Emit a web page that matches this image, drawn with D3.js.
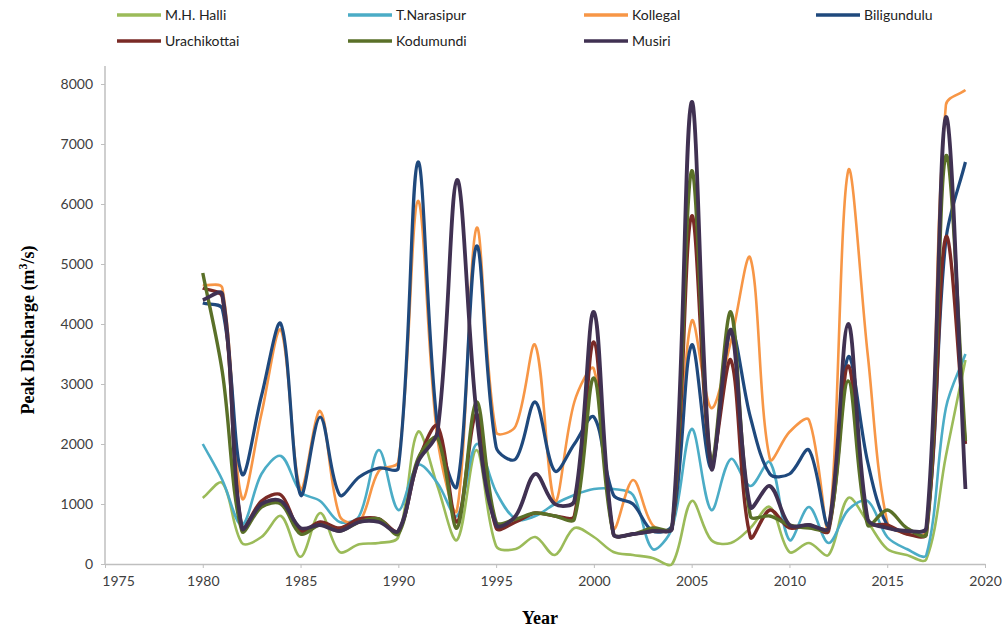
<!DOCTYPE html>
<html lang="en">
<meta charset="utf-8">
<head>
    <script src='https://d3js.org/d3.v7.min.js'></script>
    <style>
        body { margin: 0; background: #fff; }
        svg text { font-family: Lato, "Open Sans", sans-serif; }
    </style>
</head>
<body>
<div id="chart"></div>
<script>
// years 1980 - 2019
const years = d3.range(1980, 2020);

const mhHalli     = [1100,1350,350,450,800,120,850,200,330,350,450,2200,1300,400,1900,300,250,450,150,600,450,200,150,100,0,1050,400,350,600,950,200,350,150,1100,700,250,150,80,1800,3400];
const tNarasipur  = [2000,1400,650,1500,1800,1200,1050,700,800,1900,900,1650,1350,800,2000,1200,750,800,1000,1150,1250,1250,1150,250,600,2250,900,1750,1300,1700,400,950,350,900,1050,450,250,150,2600,3500];
const kollegal    = [4650,4600,1100,2500,3900,1250,2550,800,700,1550,1700,6050,2100,900,5600,2200,2300,3650,1050,2700,3250,600,1400,650,600,4050,2600,3700,5100,1750,2200,2400,600,6550,3500,700,500,550,7650,7900];
const biligundulu = [4350,4250,1500,2800,4000,1150,2450,1150,1450,1600,1600,6700,2300,1300,5300,1950,1750,2700,1550,2000,2450,1150,1000,550,650,3650,1600,3900,2450,1500,1500,1900,650,3450,1700,650,550,600,5400,6700];
const urachikottai= [4600,4450,600,1050,1150,550,700,600,750,750,550,1700,2300,700,2500,600,700,850,800,800,3700,500,500,550,600,5800,1700,3400,450,900,600,650,550,3300,700,650,500,500,5450,2000];
const kodumundi   = [4850,3200,550,950,1000,500,650,550,700,750,500,1750,2100,600,2700,700,750,850,800,750,3100,500,500,600,600,6550,1700,4200,800,800,650,600,600,3050,650,900,600,500,6800,2050];
const musiri      = [4400,4500,600,1000,1050,600,650,550,700,700,550,1700,2200,6400,2500,650,800,1500,1000,1050,4200,500,500,550,600,7700,1600,3900,950,1300,650,650,600,4000,750,600,550,600,7450,1250];

const names  = ['M.H. Halli','T.Narasipur','Kollegal','Biligundulu','Urachikottai','Kodumundi','Musiri'];
const values = [mhHalli, tNarasipur, kollegal, biligundulu, urachikottai, kodumundi, musiri];
const colors = ['#9BBB59','#4BACC6','#F79646','#1F497D','#7A2A26','#5A7028','#403152'];
const widths = [2.6, 2.6, 2.6, 3.2, 3.4, 3.4, 3.8];

const xTicks = d3.range(1975, 2021, 5);
const yTicks = d3.range(0, 8001, 1000);

const W = 1008, H = 636;
const svg = d3.select('#chart').append('svg')
    .attr('width', W).attr('height', H);

const x = d3.scaleLinear().domain([1975, 2020]).range([105, 985]);
const y = d3.scaleLinear().domain([0, 8000]).range([564, 84]);

// spreadsheet-style smoothing: catmull-rom tangents weighted by segment length
function smoothCurve(context) {
    let pts;
    return {
        areaStart() {}, areaEnd() {},
        lineStart() { pts = []; },
        point(px, py) { pts.push([+px, +py]); },
        lineEnd() {
            const n = pts.length;
            if (!n) return;
            const dist = (a, b) => Math.hypot(b[0] - a[0], b[1] - a[1]);
            context.moveTo(pts[0][0], pts[0][1]);
            for (let i = 0; i < n - 1; i++) {
                const p0 = pts[Math.max(i - 1, 0)], p1 = pts[i], p2 = pts[i + 1], p3 = pts[Math.min(i + 2, n - 1)];
                const d01 = dist(p0, p1), d12 = dist(p1, p2), d23 = dist(p2, p3);
                const f1 = d12 / (3 * (d01 + d12)), f2 = d12 / (3 * (d12 + d23));
                context.bezierCurveTo(
                    p1[0] + (p2[0] - p0[0]) * f1, p1[1] + (p2[1] - p0[1]) * f1,
                    p2[0] - (p3[0] - p1[0]) * f2, p2[1] - (p3[1] - p1[1]) * f2,
                    p2[0], p2[1]);
            }
        }
    };
}

// axes
const xAxis = svg.append('g')
    .attr('transform', 'translate(0,564)')
    .call(d3.axisBottom(x).tickValues(xTicks).tickFormat(d3.format('d')).tickSize(4).tickPadding(8).tickSizeOuter(0));
xAxis.select('.domain').attr('stroke', '#BFBFBF').attr('stroke-width', 1.5);
xAxis.selectAll('.tick line').attr('stroke', '#BFBFBF');
xAxis.selectAll('.tick text').attr('font-size', 14).attr('fill', '#404040');
xAxis.selectAll('.tick').filter(d => d === 1975).select('text').attr('dx', 13);

const yAxis = svg.append('g')
    .attr('transform', 'translate(105,0)')
    .call(d3.axisLeft(y).tickValues(yTicks).tickFormat(d3.format('d')).tickSize(4).tickPadding(8).tickSizeOuter(0));
yAxis.select('.domain').attr('stroke', '#BFBFBF').attr('stroke-width', 1.5)
    .attr('d', 'M0,66V564');
yAxis.selectAll('.tick line').attr('stroke', '#BFBFBF');
yAxis.selectAll('.tick text').attr('font-size', 14).attr('fill', '#404040');

// lines
const line = d3.line()
    .x((d, i) => x(years[i]))
    .y(d => y(d))
    .curve(smoothCurve);

values.forEach((vals, k) => {
    svg.append('path')
        .datum(vals)
        .attr('fill', 'none')
        .attr('stroke', colors[k])
        .attr('stroke-width', widths[k])
        .attr('stroke-linejoin', 'round')
        .attr('d', line);
});

// legend
const legX = [117, 348, 584, 816];
names.forEach((n, k) => {
    const lx = legX[k % 4], ly = k < 4 ? 15 : 41;
    svg.append('line')
        .attr('x1', lx).attr('x2', lx + 44)
        .attr('y1', ly).attr('y2', ly)
        .attr('stroke', colors[k]).attr('stroke-width', 3.5);
    svg.append('text')
        .attr('x', lx + 48).attr('y', ly + 5)
        .attr('font-size', 14).attr('fill', '#222')
        .text(n);
});

// axis titles
svg.append('text')
    .attr('x', 540).attr('y', 624)
    .attr('text-anchor', 'middle')
    .style('font-family', '"Liberation Serif", "Times New Roman", serif')
    .attr('font-weight', 'bold').attr('font-size', 18)
    .text('Year');

const yt = svg.append('text')
    .attr('transform', 'translate(34,330) rotate(-90)')
    .attr('text-anchor', 'middle')
    .style('font-family', '"Liberation Serif", "Times New Roman", serif')
    .attr('font-weight', 'bold').attr('font-size', 18);
yt.append('tspan').text('Peak Discharge (m');
yt.append('tspan').attr('baseline-shift', 'super').attr('font-size', 12).text('3');
yt.append('tspan').text('/s)');
</script>
</body>
</html>
